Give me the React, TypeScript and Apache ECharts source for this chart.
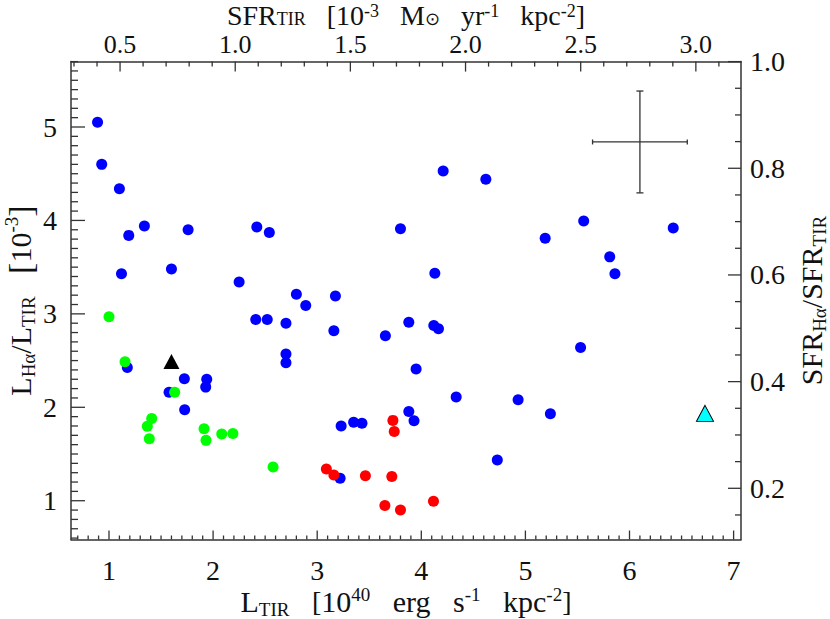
import React, { useEffect, useRef } from "react";
import * as echarts from "echarts";

// ---- data (L_TIR [1e40 erg s^-1 kpc^-2], L_Halpha/L_TIR [1e-3]) ----
const blueX = [0.89, 0.93, 1.10, 1.19, 1.34, 1.76, 2.42, 2.54, 1.12, 1.60, 2.25, 2.80, 2.89, 2.41, 2.52, 2.70,
  4.13, 3.175, 3.16, 3.655, 3.88, 4.12, 4.165, 2.70, 2.70, 3.95, 4.335, 3.88, 3.93, 3.23, 3.35, 3.43, 3.22,
  4.21, 4.62, 5.56, 5.19, 6.42, 5.81, 5.86, 5.53, 4.93, 5.24, 4.73, 3.80,
  1.176, 1.724, 1.939, 1.929, 1.577, 1.727];
const blueY = [5.05, 4.60, 4.34, 3.84, 3.94, 3.90, 3.93, 3.87, 3.43, 3.48, 3.34, 3.21, 3.09, 2.94, 2.94, 2.90,
  3.435, 3.19, 2.82, 2.765, 2.91, 2.876, 2.84, 2.57, 2.476, 2.41, 2.11, 1.956, 1.856, 1.80, 1.84, 1.83, 1.24,
  4.53, 4.44, 3.995, 3.81, 3.92, 3.61, 3.43, 2.64, 2.08, 1.93, 1.435, 3.91,
  2.427, 2.305, 2.30, 2.216, 2.16, 1.973];
const greenX = [1.00, 1.154, 1.631, 1.41, 1.368, 1.387, 1.913, 1.932, 2.083, 2.19, 2.576];
const greenY = [2.97, 2.487, 2.16, 1.88, 1.796, 1.663, 1.77, 1.646, 1.713, 1.72, 1.36];
const redX = [3.727, 3.74, 3.088, 3.16, 3.463, 3.717, 3.65, 3.80, 4.117];
const redY = [1.86, 1.742, 1.339, 1.275, 1.267, 1.26, 0.95, 0.90, 0.994];
const blackTriangle = [1.60, 2.49];
const cyanTriangle = [6.725, 1.935];
// [x, y, xerr, yerr]
const errorBar = [6.10, 4.84, 0.455, 0.545];

// ---- axes ----
const xRange = [0.635, 7.071];
const yRange = [0.585, 5.70];
const topRange = [0.287, 3.196];
const rightRange = [0.104, 1.0];
const xMajorTicks = [1, 2, 3, 4, 5, 6, 7];
const yMajorTicks = [1, 2, 3, 4, 5];
const topMajorTicks = [0.5, 1.0, 1.5, 2.0, 2.5, 3.0];
const rightMajorTicks = [0.2, 0.4, 0.6, 0.8, 1.0];

function minorTicks(lo: number, hi: number, step: number, major: number[]) {
  const out: number[] = [];
  const start = Math.ceil(lo / step - 1e-9);
  const end = Math.floor(hi / step + 1e-9);
  for (let i = start; i <= end; i++) {
    const v = Math.round(i * step * 1000) / 1000;
    if (major.some((m) => Math.abs(m - v) < 1e-6)) continue;
    out.push(v);
  }
  return out;
}

const FONT = "Liberation Serif";
const AX = "#333";
const TXT = "#111";

function makeRich(lh: number, small: number, bracket: number) {
  return {
    s: { fontFamily: FONT, fontSize: small, lineHeight: small - 2, verticalAlign: "bottom", color: TXT },
    p: { fontFamily: FONT, fontSize: small, lineHeight: small - 2, verticalAlign: "top", color: TXT },
    b: { fontFamily: FONT, fontSize: bracket, lineHeight: lh, color: TXT },
  };
}

interface AxisOpts {
  position: string;
  range: number[];
  major: number[];
  margin: number;
  fmt: (v: number) => string;
  labelSize: number;
  name: string;
  nameGap: number;
  rotate: boolean;
  nameSize: number;
  nameLH: number;
  small: number;
  bracket: number;
}

function mainAxis(o: AxisOpts) {
  const a: any = {
    type: "value",
    position: o.position,
    min: o.range[0],
    max: o.range[1],
    axisLine: { show: true, onZero: false, lineStyle: { color: AX, width: 1.5 } },
    axisTick: { show: false },
    minorTick: { show: false },
    axisLabel: {
      show: true,
      customValues: o.major,
      margin: o.margin,
      formatter: o.fmt,
      fontFamily: FONT,
      fontSize: o.labelSize,
      lineHeight: 20,
      color: TXT,
    },
    splitLine: { show: false },
    name: o.name,
    nameLocation: "middle",
    nameGap: o.nameGap,
    nameMoveOverlap: false,
    nameTextStyle: {
      fontFamily: FONT,
      fontSize: o.nameSize,
      lineHeight: o.nameLH,
      color: TXT,
      rich: makeRich(o.nameLH, o.small, o.bracket),
    },
  };
  if (o.rotate) a.nameRotate = 90;
  return a;
}

// tick data rows: [x, y, length]
const bottomTicks = [
  ...xMajorTicks.map((v) => [v, yRange[0], 9]),
  ...minorTicks(xRange[0], xRange[1], 0.1, xMajorTicks).map((v) => [v, yRange[0], 4]),
];
const topTicks = [
  ...topMajorTicks.map((v) => [v, yRange[1], 10]),
  ...minorTicks(topRange[0], topRange[1], 0.1, topMajorTicks).map((v) => [v, yRange[1], 5]),
];
const leftTicks = [
  ...yMajorTicks.map((v) => [xRange[0], v, 14]),
  ...minorTicks(yRange[0], yRange[1], 0.1, yMajorTicks).map((v) => [xRange[0], v, 7]),
];
const rightTicks = [
  ...rightMajorTicks.map((v) => [xRange[1], v, 13]),
  ...minorTicks(rightRange[0], rightRange[1], 0.05, rightMajorTicks).map((v) => [xRange[1], v, 6]),
];

function tickSeries(data: number[][], xi: number, yi: number, dx: number, dy: number) {
  return {
    type: "custom",
    xAxisIndex: xi,
    yAxisIndex: yi,
    silent: true,
    clip: false,
    z: 6,
    encode: { x: 0, y: 1 },
    data,
    renderItem: (_p: any, api: any) => {
      const pt = api.coord([api.value(0), api.value(1)]);
      const len = api.value(2);
      return {
        type: "line",
        shape: { x1: pt[0], y1: pt[1], x2: pt[0] + dx * len, y2: pt[1] + dy * len },
        style: { stroke: AX, lineWidth: 1.3 },
      };
    },
  };
}

export default function App() {
  const ref = useRef<HTMLDivElement>(null);
  useEffect(() => {
    if (!ref.current) return;
    const chart = echarts.init(ref.current, undefined, { renderer: "svg" });
    const intFmt = (v: number) => String(Math.round(v));
    const decFmt = (v: number) => v.toFixed(1);
    const zip = (xs: number[], ys: number[]) => xs.map((x, i) => [x, ys[i]]);

    chart.setOption({
      animation: false,
      grid: { left: 71, right: 89, top: 61.6, bottom: 79.5, containLabel: false, outerBoundsMode: "none" },
      xAxis: [
        mainAxis({
          position: "bottom", range: xRange, major: xMajorTicks, margin: 21, fmt: intFmt, labelSize: 28,
          name: "L{s|TIR}   {b|[}10{p|40}   erg   s{p|-1}   kpc{p|-2}{b|]}", nameGap: 45, rotate: false,
          nameSize: 30, nameLH: 34, small: 19, bracket: 28,
        }),
        mainAxis({
          position: "top", range: topRange, major: topMajorTicks, margin: 7, fmt: decFmt, labelSize: 26,
          name: "SFR{s|TIR}   {b|[}10{p|-3}   M{s|⊙}   yr{p|-1}   kpc{p|-2}{b|]}", nameGap: 33.6, rotate: false,
          nameSize: 28, nameLH: 26, small: 18, bracket: 28,
        }),
      ],
      yAxis: [
        mainAxis({
          position: "left", range: yRange, major: yMajorTicks, margin: 14, fmt: intFmt, labelSize: 28,
          name: "L{s|Hα}/L{s|TIR}   {b|[}10{p|-3}{b|]}", nameGap: 33, rotate: true,
          nameSize: 30, nameLH: 36, small: 19, bracket: 34,
        }),
        mainAxis({
          position: "right", range: rightRange, major: rightMajorTicks, margin: 9, fmt: decFmt, labelSize: 28,
          name: "SFR{s|Hα}/SFR{s|TIR}", nameGap: 52, rotate: true,
          nameSize: 30, nameLH: 36, small: 19, bracket: 34,
        }),
      ],
      series: [
        {
          type: "scatter",
          xAxisIndex: 0,
          yAxisIndex: 0,
          symbol: "circle",
          symbolSize: 11,
          itemStyle: { color: "#0000ff", opacity: 1 },
          data: zip(blueX, blueY),
          silent: true,
          z: 2,
        },
        {
          type: "scatter",
          xAxisIndex: 0,
          yAxisIndex: 0,
          symbol: "circle",
          symbolSize: 11,
          itemStyle: { color: "#00ff00", opacity: 1 },
          data: zip(greenX, greenY),
          silent: true,
          z: 3,
        },
        {
          type: "scatter",
          xAxisIndex: 0,
          yAxisIndex: 0,
          symbol: "circle",
          symbolSize: 11,
          itemStyle: { color: "#ff0000", opacity: 1 },
          data: zip(redX, redY),
          silent: true,
          z: 4,
        },
        {
          type: "scatter",
          xAxisIndex: 0,
          yAxisIndex: 0,
          symbol: "triangle",
          symbolSize: [16, 15],
          itemStyle: { color: "#000000", opacity: 1 },
          data: [blackTriangle],
          silent: true,
          z: 5,
        },
        {
          type: "scatter",
          xAxisIndex: 0,
          yAxisIndex: 0,
          symbol: "triangle",
          symbolSize: [17, 16],
          itemStyle: { color: "#00ffff", borderColor: "#000", borderWidth: 1, opacity: 1 },
          data: [cyanTriangle],
          silent: true,
          z: 5,
        },
        {
          type: "custom",
          xAxisIndex: 0,
          yAxisIndex: 0,
          silent: true,
          z: 5,
          encode: { x: 0, y: 1 },
          data: [errorBar],
          renderItem: (_params: any, api: any) => {
            const x = api.value(0);
            const y = api.value(1);
            const ex = api.value(2);
            const ey = api.value(3);
            const l = api.coord([x - ex, y]);
            const r = api.coord([x + ex, y]);
            const t = api.coord([x, y + ey]);
            const b = api.coord([x, y - ey]);
            const style = { stroke: "#333", lineWidth: 1.3, fill: "none" };
            const line = (x1: number, y1: number, x2: number, y2: number) => ({
              type: "line",
              shape: { x1, y1, x2, y2 },
              style,
            });
            return {
              type: "group",
              children: [
                line(l[0], l[1], r[0], r[1]),
                line(t[0], t[1], b[0], b[1]),
                line(l[0], l[1] - 2.5, l[0], l[1] + 2.5),
                line(r[0], r[1] - 2.5, r[0], r[1] + 2.5),
                line(t[0] - 3.5, t[1], t[0] + 3.5, t[1]),
                line(b[0] - 3.5, b[1], b[0] + 3.5, b[1]),
              ],
            };
          },
        },
        tickSeries(bottomTicks, 0, 0, 0, -1),
        tickSeries(topTicks, 1, 0, 0, 1),
        tickSeries(leftTicks, 0, 0, 1, 0),
        tickSeries(rightTicks, 0, 1, -1, 0),
      ],
    });
    return () => chart.dispose();
  }, []);
  return (
    <div
      ref={ref}
      style={{ position: "fixed", left: 0, top: 0, width: 830, height: 619, background: "#fff" }}
    />
  );
}
